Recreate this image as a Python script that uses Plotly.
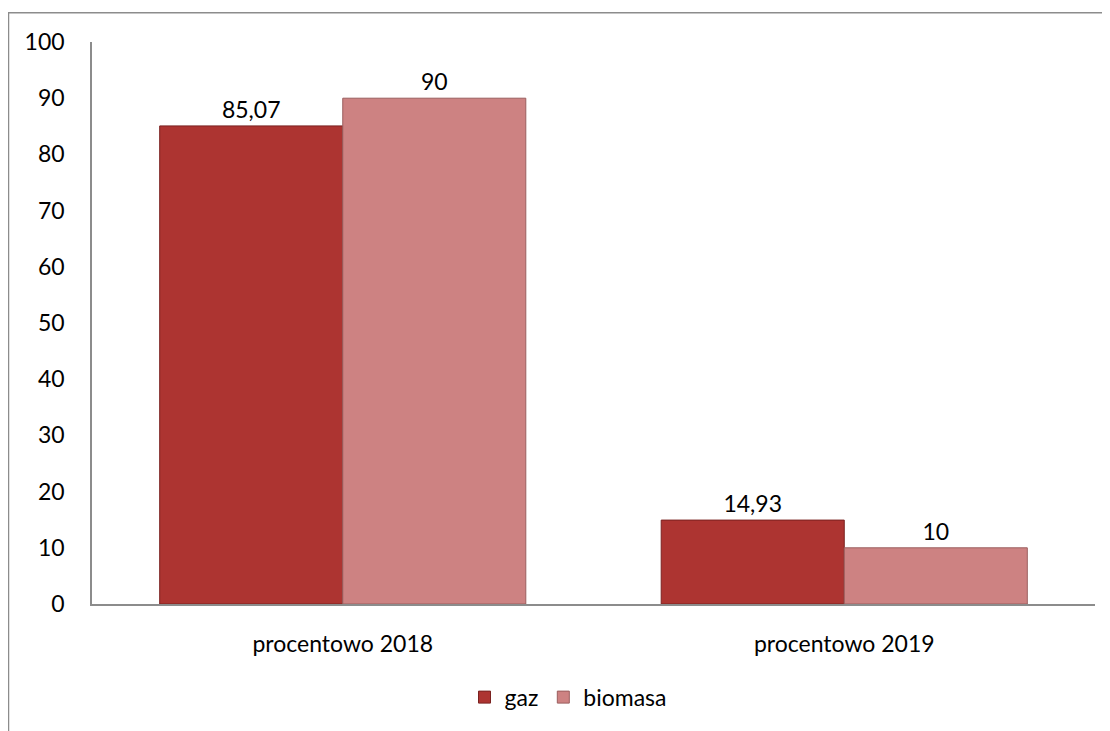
import plotly.graph_objects as go

categories = ["procentowo 2018", "procentowo 2019"]
series_names = ["gaz", "biomasa"]
gaz_values = [85.07, 14.93]
biomasa_values = [90, 10]
y_ticks = [0, 10, 20, 30, 40, 50, 60, 70, 80, 90, 100]

def fmt(v):
    s = ("%.2f" % v).rstrip("0").rstrip(".")
    return s.replace(".", ",")

FONT = "Lato"
FS = 23

fig = go.Figure()
fig.add_trace(go.Bar(
    x=categories, y=gaz_values, name=series_names[0],
    text=[fmt(v) for v in gaz_values], textposition="outside",
    marker=dict(color="#ad3431", line=dict(color="#7a2220", width=1)),
    textfont=dict(family=FONT, size=FS, color="#000"),
    cliponaxis=False,
))
fig.add_trace(go.Bar(
    x=categories, y=biomasa_values, name=series_names[1],
    text=[fmt(v) for v in biomasa_values], textposition="outside",
    marker=dict(color="#cd8282", line=dict(color="#9a5e5e", width=1)),
    textfont=dict(family=FONT, size=FS, color="#000"),
    cliponaxis=False,
))

# page has an 8px body margin: the figure starts at (8, 8) in the window
OFF = 8
W, H = 1110 - OFF, 731 - OFF
L, T = 92 - OFF, 42 - OFF
R = W - (1095 - OFF)
B = H - (609 - OFF)
pw, ph = W - L - R, H - T - B

def px2x(p):
    return (p - OFF - L) / pw

def py2y(p):
    return (H - B - (p - OFF)) / ph

fig.update_layout(
    width=W, height=H,
    margin=dict(l=L, r=R, t=T, b=B),
    paper_bgcolor="white", plot_bgcolor="white",
    barmode="group", bargap=0.27, bargroupgap=0,
    font=dict(family=FONT, size=FS, color="#000"),
    showlegend=True,
    legend=dict(orientation="h", x=px2x(568), y=py2y(703), xanchor="center", yanchor="middle",
                font=dict(family=FONT, size=FS), itemwidth=30, traceorder="normal"),
    xaxis=dict(showline=True, linecolor="#8c8c8c", linewidth=2, ticks="",
               ticklabelstandoff=18, showgrid=False, tickfont=dict(size=FS)),
    yaxis=dict(range=[0, 100], tickvals=y_ticks, showline=True, linecolor="#8c8c8c", linewidth=1.5,
               ticks="", ticklabelstandoff=21, showgrid=False, zeroline=False, tickfont=dict(size=FS)),
    shapes=[dict(type="rect", xref="paper", yref="paper",
                 x0=px2x(8.5), x1=px2x(1300), y0=py2y(900), y1=py2y(12.5),
                 line=dict(color="#8c8c8c", width=1.5), fillcolor="rgba(0,0,0,0)", layer="below")],
)

fig.write_html("out.html")
